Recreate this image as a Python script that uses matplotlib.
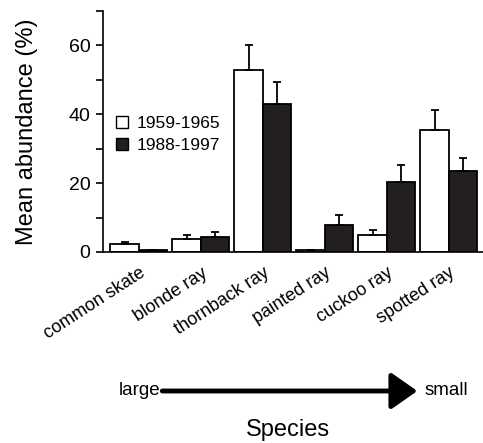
import matplotlib
matplotlib.use("Agg")
import matplotlib.pyplot as plt
from matplotlib.patches import Patch
import numpy as np

plt.rcParams['font.family'] = ['Liberation Sans', 'DejaVu Sans']

species = ['common skate', 'blonde ray', 'thornback ray', 'painted ray',
           'cuckoo ray', 'spotted ray']
early_mean = [2.2, 3.9, 53.0, 0.7, 4.8, 35.3]
early_err = [0.8, 1.1, 7.0, 0.0, 1.6, 5.8]
late_mean = [0.5, 4.4, 42.9, 7.7, 20.3, 23.5]
late_err = [0.0, 1.5, 6.5, 3.1, 5.1, 3.9]
periods = ['1959-1965', '1988-1997']

fig = plt.figure(figsize=(4.83, 4.43), dpi=100)
ax = fig.add_axes([0.2133, 0.4312, 0.7867, 0.5440])

x = np.arange(len(species))
w = 0.46
zeros = [0] * len(species)
ax.bar(x - w / 2, early_mean, w, color='white', edgecolor='black', linewidth=1.3,
       yerr=[zeros, early_err], capsize=3, error_kw=dict(elinewidth=1.3, capthick=1.3))
ax.bar(x + w / 2, late_mean, w, color='#231f20', edgecolor='black', linewidth=1.3,
       yerr=[zeros, late_err], capsize=3, error_kw=dict(elinewidth=1.3, capthick=1.3))

ax.set_xlim(-0.58, 5.55)
ax.set_ylim(0, 70)
ax.set_yticks([0, 20, 40, 60])
ax.set_yticks([10, 30, 50, 70], minor=True)
ax.set_xticks(x)
ax.set_xticklabels(species, rotation=33, ha='right', rotation_mode='anchor', fontsize=13)
ax.tick_params(axis='x', length=0, pad=9)
ax.tick_params(axis='y', which='both', length=5, width=1.2, labelsize=14, pad=4)
for s in ['top', 'right']:
    ax.spines[s].set_visible(False)
for s in ['left', 'bottom']:
    ax.spines[s].set_linewidth(1.2)
ax.set_ylabel('Mean abundance (%)', fontsize=17, labelpad=22)

handles = [Patch(facecolor='white', edgecolor='black', linewidth=1),
           Patch(facecolor='#231f20', edgecolor='black', linewidth=1)]
fig.legend(handles, periods, loc='upper left', bbox_to_anchor=(0.24, 0.739),
           frameon=False, fontsize=12.5, handlelength=0.7, handleheight=0.7,
           handletextpad=0.5, labelspacing=0.4, borderpad=0, borderaxespad=0)

# size arrow below the axis
ax.annotate('', xy=(0.864, 0.1174), xytext=(0.336, 0.1174),
            xycoords='figure fraction', textcoords='figure fraction',
            arrowprops=dict(arrowstyle='-|>,head_length=0.4,head_width=0.28',
                            mutation_scale=40, lw=3.5, color='black',
                            shrinkA=0, shrinkB=0))
fig.text(0.333, 0.1174, 'large', ha='right', va='center', fontsize=13.5)
fig.text(0.878, 0.1174, 'small', ha='left', va='center', fontsize=13.5)
fig.text(0.596, 0.03, 'Species', ha='center', va='center', fontsize=17)

plt.savefig('out.png', dpi=100)
